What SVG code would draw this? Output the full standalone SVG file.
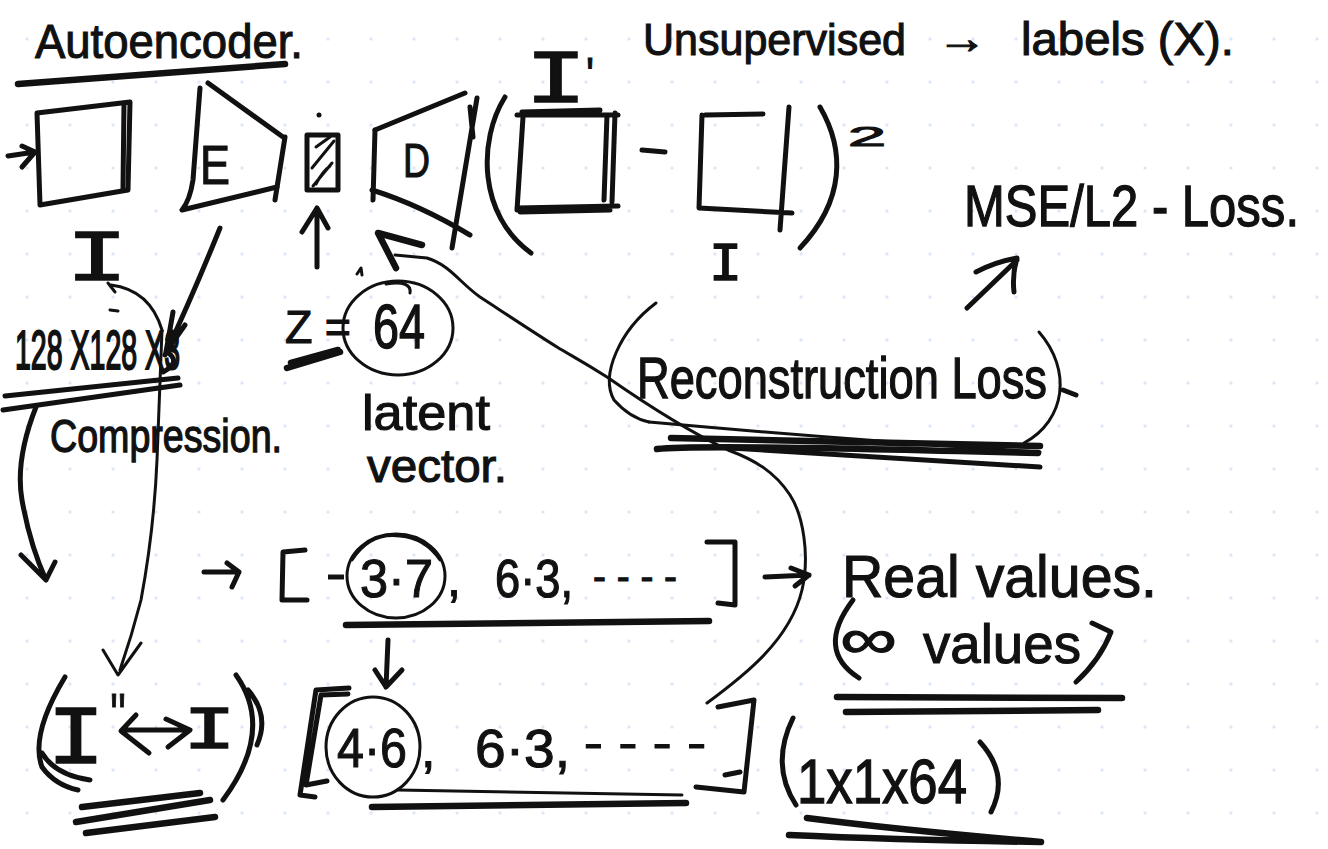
<svg xmlns="http://www.w3.org/2000/svg" width="1328" height="849" viewBox="0 0 1328 849">
  <defs>
    <!-- dotted notebook grid -->
    <pattern id="grid" x="5.5" y="17.5" width="43" height="43" patternUnits="userSpaceOnUse">
      <circle cx="21.5" cy="21.5" r="1.5" fill="#d3e2f4"/>
    </pattern>
    <style>
      .ink { fill: none; stroke: #111; stroke-width: 5; stroke-linecap: round; stroke-linejoin: round; }
      .thin { fill: none; stroke: #111; stroke-width: 3; stroke-linecap: round; stroke-linejoin: round; }
      .heavy { fill: none; stroke: #111; stroke-width: 6.5; stroke-linecap: round; stroke-linejoin: round; }
      .hand { font-family: "Liberation Sans", Arial, sans-serif; fill: #111; stroke: #111; stroke-width: 1.1; }
      .bar { font-family: "Liberation Mono", "Courier New", monospace; fill: #111; stroke: #111; stroke-width: 1.6; }
    </style>
  </defs>

  <rect width="1328" height="849" fill="#ffffff"/>
  <rect width="1328" height="849" fill="url(#grid)"/>

  <!-- heading -->
  <g id="title">
    <text class="hand" x="35" y="58" font-size="48" textLength="268" lengthAdjust="spacingAndGlyphs">Autoencoder.</text>
    <path class="heavy" d="M18,84 Q150,74 285,64"/>
  </g>

  <g id="note-unsupervised">
    <text class="hand" x="643" y="55" font-size="44" textLength="263" lengthAdjust="spacingAndGlyphs">Unsupervised</text>
    <text class="hand" x="937" y="53" font-size="44" textLength="50" lengthAdjust="spacingAndGlyphs">→</text>
    <text class="hand" x="1021" y="55" font-size="46" textLength="213" lengthAdjust="spacingAndGlyphs">labels (X).</text>
  </g>

  <!-- input image I -->
  <g id="input-image">
    <path class="ink" d="M40,205 L37,113 L130,102 L128,190 Z"/>
    <path class="ink" d="M124,104 L123,188"/>
    <text class="bar" x="66" y="280" font-size="72" textLength="62" lengthAdjust="spacingAndGlyphs">I</text>
  </g>

  <!-- encoder -->
  <g id="encoder">
    <path class="ink" d="M200,88 L193,180 Q190,200 182,210 L277,187"/>
    <path class="ink" d="M208,83 L283,137"/>
    <path class="ink" d="M285,137 L275,200"/>
    <text class="hand" x="200" y="184" font-size="56" textLength="30" lengthAdjust="spacingAndGlyphs">E</text>
  </g>

  <!-- latent code -->
  <g id="latent-code">
    <path class="ink" d="M307,135 L338,135 L338,190 L307,190 Z"/>
    <path class="thin" d="M316,147 L330,137 M312,168 L334,141 M313,186 L332,163 M316,184 Q322,172 330,166"/>
    <circle cx="319" cy="115" r="2.5" fill="#111"/>
  </g>

  <!-- decoder -->
  <g id="decoder">
    <path class="ink" d="M375,130 L465,93"/>
    <path class="ink" d="M375,130 L373,200"/>
    <path class="ink" d="M372,190 Q420,205 470,235"/>
    <path class="ink" d="M477,98 L452,248 M470,107 L473,137"/>
    <text class="hand" x="403" y="177" font-size="48" textLength="27" lengthAdjust="spacingAndGlyphs">D</text>
  </g>

  <!-- squared difference (I' - I)^2 -->
  <g id="loss-expression">
    <path class="ink" d="M505,97 C478,140 478,215 531,253"/>
    <path class="ink" d="M517,115 L618,115 M522,112 L600,110 M523,117 L517,210 M607,115 L604,200 M615,113 L612,202 M517,208 L618,206 M520,212 L610,210"/>
    <text class="bar" x="525" y="102" font-size="76" textLength="62" lengthAdjust="spacingAndGlyphs">I</text>
    <text class="hand" x="586" y="91" font-size="48" textLength="8" lengthAdjust="spacingAndGlyphs">'</text>
    <path class="ink" d="M642,150 L665,152"/>
    <path class="ink" d="M705,115 L763,114 M702,115 L699,208 L792,213 M789,107 L780,230"/>
    <text class="bar" x="709" y="280" font-size="54" textLength="33" lengthAdjust="spacingAndGlyphs">I</text>
    <path class="ink" d="M820,107 C845,150 845,200 800,248"/>
    <text class="hand" x="848" y="146" font-size="28" textLength="38" lengthAdjust="spacingAndGlyphs">2</text>
  </g>

  <g id="mse-loss">
    <text class="hand" transform="translate(964,226) scale(1,1.15)" x="0" y="0" font-size="50" textLength="335" lengthAdjust="spacingAndGlyphs">MSE/L2 - Loss.</text>
  </g>

  <g id="reconstruction-loss">
    <path class="thin" d="M656,303 C620,330 600,375 614,400 Q630,418 649,422"/>
    <text class="hand" transform="translate(637,398) scale(1,1.2)" x="0" y="0" font-size="48" textLength="410" lengthAdjust="spacingAndGlyphs">Reconstruction Loss</text>
    <path class="thin" d="M1039,332 C1072,370 1066,420 1024,443"/>
    <path class="ink" d="M1063,390 L1076,395"/>
    <path class="thin" d="M649,422 Q850,440 1040,452"/>
    <path class="heavy" d="M671,438 L1040,446 M657,449 Q700,444 1038,453"/>
    <path class="ink" d="M714,447 L1040,467"/>
  </g>

  <g id="input-size">
    <text class="hand" transform="translate(15,369) scale(1,1.9)" x="0" y="0" font-size="29" textLength="165" lengthAdjust="spacingAndGlyphs">128 X128 X3</text>
    <path class="ink" d="M5,396 L178,378 M3,410 L180,385"/>
    <path class="thin" d="M110,310 L118,311"/>
  </g>

  <g id="compression-label">
    <text class="hand" transform="translate(50,452) scale(1,1.2)" x="0" y="0" font-size="38" textLength="232" lengthAdjust="spacingAndGlyphs">Compression.</text>
  </g>

  <g id="latent-size">
    <text class="hand" x="285" y="343" font-size="46" textLength="66" lengthAdjust="spacingAndGlyphs">Z =</text>
    <path class="heavy" d="M287,368 L340,352 M291,363 L338,350"/>
    <text class="hand" transform="translate(373,348) scale(1,1.3)" x="0" y="0" font-size="48" textLength="52" lengthAdjust="spacingAndGlyphs">64</text>
    <ellipse class="thin" cx="398" cy="328" rx="55" ry="47"/>
    <path class="thin" d="M386,284 Q412,280 410,293"/>
    <path class="thin" d="M357,274 L361,268 L362,275"/>
  </g>

  <g id="latent-vector-label">
    <text class="hand" x="362" y="430" font-size="50" textLength="128" lengthAdjust="spacingAndGlyphs">latent</text>
    <text class="hand" x="367" y="482" font-size="46" textLength="140" lengthAdjust="spacingAndGlyphs">vector.</text>
  </g>

  <!-- latent vector values -->
  <g id="vector-row-1">
    <path class="ink" d="M305,550 L283,552 L282,600 L307,600"/>
    <text class="hand" x="326" y="590" font-size="50" textLength="20" lengthAdjust="spacingAndGlyphs">-</text>
    <text class="hand" x="360" y="597" font-size="54" textLength="73" lengthAdjust="spacingAndGlyphs">3·7</text>
    <ellipse class="thin" cx="396" cy="576" rx="49" ry="42"/>
    <path class="thin" d="M352,560 Q370,532 400,536 Q425,538 440,560"/>
    <text class="hand" x="447" y="596" font-size="50">,</text>
    <text class="hand" transform="translate(495,597) scale(1,1.1)" x="0" y="0" font-size="48" textLength="78" lengthAdjust="spacingAndGlyphs">6·3,</text>
    <text class="hand" x="593" y="590" font-size="40" textLength="84" lengthAdjust="spacingAndGlyphs">- - - -</text>
    <path class="ink" d="M707,542 L735,542 L735,605 L718,603"/>
    <path class="heavy" d="M346,625 L709,621"/>
  </g>

  <g id="real-values">
    <text class="hand" x="842" y="597" font-size="60" textLength="315" lengthAdjust="spacingAndGlyphs">Real values.</text>
    <path class="ink" d="M853,600 Q815,650 859,678"/>
    <text class="hand" x="840" y="658" font-size="56" textLength="57" lengthAdjust="spacingAndGlyphs">∞</text>
    <text class="hand" x="923" y="663" font-size="56" textLength="158" lengthAdjust="spacingAndGlyphs">values</text>
    <path class="ink" d="M1092,623 L1111,632 Q1100,660 1076,682"/>
    <path class="heavy" d="M837,697 L1122,698 M846,712 L1098,710"/>
  </g>

  <g id="vector-row-2">
    <path class="ink" d="M349,688 L316,690 L300,795 L315,797 M348,694 L321,695 L306,785 L327,781"/>
    <text class="hand" x="337" y="767" font-size="56" textLength="70" lengthAdjust="spacingAndGlyphs">4·6</text>
    <ellipse class="thin" cx="373" cy="747" rx="47" ry="50"/>
    <text class="hand" x="421" y="767" font-size="52">,</text>
    <text class="hand" x="475" y="767" font-size="54" textLength="95" lengthAdjust="spacingAndGlyphs">6·3,</text>
    <text class="hand" x="584" y="758" font-size="42" textLength="122" lengthAdjust="spacingAndGlyphs">- - - -</text>
    <path class="ink" d="M718,707 L754,700 L744,792 L696,787 M725,775 L740,772"/>
    <path class="heavy" d="M372,807 L686,803"/>
    <path class="thin" d="M398,790 L682,795"/>
  </g>

  <g id="shape-label">
    <path class="ink" d="M793,718 Q770,765 796,805"/>
    <text class="hand" transform="translate(797,803) scale(1,1.15)" x="0" y="0" font-size="54" textLength="170" lengthAdjust="spacingAndGlyphs">1x1x64</text>
    <path class="ink" d="M980,742 Q1010,775 991,812"/>
    <path class="heavy" d="M807,818 Q900,830 1041,842 M789,835 Q900,840 1041,842"/>
  </g>

  <g id="pair-label">
    <path class="ink" d="M65,677 Q30,735 42,767 Q55,785 78,790 M42,753 Q55,775 90,780"/>
    <text class="bar" x="47" y="763" font-size="84" textLength="58" lengthAdjust="spacingAndGlyphs">I</text>
    <text class="hand" x="110" y="735" font-size="60" textLength="16" lengthAdjust="spacingAndGlyphs">''</text>
    <text class="bar" x="183" y="748" font-size="62" textLength="53" lengthAdjust="spacingAndGlyphs">I</text>
    <path class="ink" d="M236,675 Q275,730 223,800 M248,690 Q270,715 257,745"/>
    <path class="heavy" d="M82,807 L200,793 M76,822 L210,800 M86,833 L215,817"/>
  </g>

  <!-- connectors -->
  <g id="connectors">
    <!-- input into first image -->
    <path class="ink" d="M8,156 L35,152 M22,146 L35,152 L22,167"/>
    <!-- encoder output down to input size -->
    <path class="ink" d="M220,228 Q195,290 165,355 M173,312 L166,352 M185,325 L166,352 M167,352 Q182,362 163,372"/>
    <!-- latent code pointer -->
    <path class="ink" d="M317,267 L317,208 M302,232 L317,208 L328,228"/>
    <!-- thin curve from I down to the pair -->
    <path class="thin" d="M108,283 L115,292 M111,285 Q150,290 162,330 L157,460 Q154,530 141,600 Q132,635 120,670 M103,650 L118,675 L141,643"/>
    <!-- compression arrow -->
    <path class="ink" d="M36,407 Q15,460 22,500 Q30,545 46,580 M21,555 L46,580 L55,562"/>
    <!-- to MSE -->
    <path class="ink" d="M967,308 L1017,260 M976,272 Q995,262 1017,258 Q1012,275 1014,292"/>
    <!-- into the value vector -->
    <path class="ink" d="M204,572 L239,572 M227,563 L239,572 L232,587"/>
    <!-- vector to real values -->
    <path class="ink" d="M765,577 L809,575 M791,568 L809,575 L795,586"/>
    <!-- perturbed value -->
    <path class="ink" d="M388,640 L386,687 M375,670 L386,687 L402,670"/>
    <!-- two-way arrow between I'' and I -->
    <path class="ink" d="M122,730 L189,730 M136,715 L121,731 L149,753 M166,719 L190,730 L168,747"/>
    <!-- sampled vector back into the decoder -->
    <path class="thin" d="M707,703 C745,675 790,640 802,590 C810,555 803,515 790,495 C775,472 755,460 728,450 C690,432 640,400 607,377 C580,360 570,355 557,347 C530,330 500,310 480,297 C460,283 450,265 427,258 L395,255"/>
    <path class="heavy" d="M422,245 L378,233 L396,268"/>
  </g>
</svg>
